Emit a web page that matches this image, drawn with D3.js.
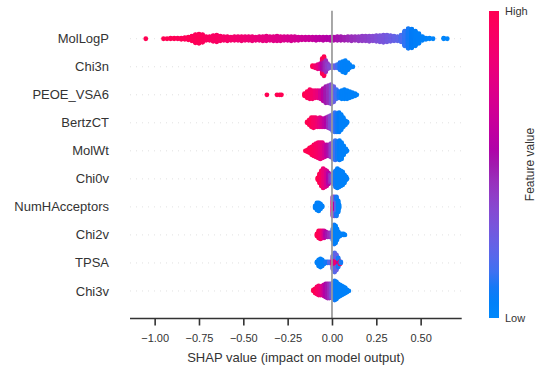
<!DOCTYPE html>
<html><head><meta charset="utf-8">
<script src="https://cdn.jsdelivr.net/npm/d3@7/dist/d3.min.js"></script>
<style>
body{margin:0;background:#fff}
svg{display:block}
text{font-family:"Liberation Sans",Arial,Helvetica,sans-serif;fill:#333333}
</style>
</head><body>
<svg id="chart" width="543" height="371"></svg>
<script>
// Feature names, top to bottom
const features = ["MolLogP","Chi3n","PEOE_VSA6","BertzCT","MolWt","Chi0v","NumHAcceptors","Chi2v","TPSA","Chi3v"];
const xTicks = [-1.0,-0.75,-0.5,-0.25,0,0.25,0.5];
const xLabel = "SHAP value (impact on model output)";
const colorbarLabel = "Feature value";
const colorbarTicks = ["High","Low"];

// Each entry: [SHAP value, number of samples at that value, normalised feature value (0 low .. 1 high)]
const molLogP = [
 [-1.05,1,1.0],[-0.95,1,1.0],[-0.93,1,1.0],[-0.91,2,0.98],[-0.89,2,1.0],[-0.87,2,0.97],[-0.85,3,0.98],
 [-0.83,4,0.97],[-0.81,6,0.98],[-0.79,10,0.98],[-0.77,17,0.97],[-0.75,19,0.98],[-0.73,16,0.96],[-0.71,8,0.95],
 [-0.69,8,0.94],[-0.67,12,0.93],[-0.65,14,0.93],[-0.63,10,0.92],[-0.61,8,0.9],[-0.59,9,0.9],[-0.57,7,0.89],
 [-0.55,8,0.88],[-0.53,8,0.87],[-0.51,9,0.86],[-0.49,8,0.85],[-0.47,8,0.84],[-0.45,9,0.83],[-0.43,7,0.82],
 [-0.41,8,0.8],[-0.39,9,0.79],[-0.37,10,0.78],[-0.35,8,0.77],[-0.33,9,0.76],[-0.31,10,0.75],[-0.29,9,0.74],
 [-0.27,8,0.72],[-0.25,8,0.71],[-0.23,9,0.7],[-0.21,8,0.69],[-0.19,7,0.68],[-0.17,6,0.66],[-0.15,6,0.65],
 [-0.13,6,0.64],[-0.11,6,0.62],[-0.09,7,0.6],[-0.07,6,0.59],[-0.05,7,0.58],[-0.03,6,0.56],[-0.01,7,0.55],
 [0.01,7,0.54],[0.03,8,0.52],[0.05,8,0.5],[0.07,7,0.49],[0.09,8,0.47],[0.11,9,0.45],[0.13,8,0.44],
 [0.15,9,0.42],[0.17,10,0.4],[0.19,10,0.39],[0.21,11,0.37],[0.23,10,0.35],[0.25,12,0.33],[0.27,13,0.31],
 [0.29,15,0.3],[0.31,14,0.28],[0.33,12,0.26],[0.35,10,0.24],[0.37,9,0.22],[0.39,14,0.18],[0.41,30,0.13],
 [0.43,40,0.1],[0.45,38,0.08],[0.47,30,0.07],[0.49,20,0.06],[0.51,8,0.05],[0.53,3,0.04],[0.55,2,0.03],
 [0.57,1,0.03],[0.63,2,0.02],[0.65,1,0.02]
];
const chi3n = [
 [-0.11,2,1.0],[-0.095,3,0.9],[-0.08,5,0.8],[-0.065,6,0.7],[-0.055,12,0.55],[-0.055,4,1.0],
 [-0.045,14,0.5],[-0.045,6,1.0],[-0.035,12,0.45],[-0.025,6,0.4],[-0.015,3,0.35],[0.0,3,0.3],
 [0.015,3,0.25],[0.03,4,0.15],[0.045,8,0.1],[0.06,11,0.05],[0.075,13,0.05],[0.09,8,0.05],
 [0.1,4,0.05],[0.118,1,0.05]
];
const peoeVsa6 = [
 [-0.367,1,1.0],[-0.31,1,1.0],[-0.295,1,1.0],[-0.285,1,1.0],[-0.155,3,1.0],[-0.14,7,0.98],
 [-0.125,10,0.95],[-0.11,9,0.9],[-0.095,8,0.85],[-0.08,8,0.8],[-0.065,9,0.7],[-0.05,13,0.6],
 [-0.035,17,0.5],[-0.02,18,0.45],[-0.005,20,0.35],[0.01,16,0.25],[0.025,10,0.15],[0.04,7,0.1],
 [0.055,9,0.05],[0.07,10,0.05],[0.085,9,0.05],[0.1,7,0.05],[0.115,5,0.05],[0.13,3,0.05],[0.14,1,0.05]
];
const bertzCT = [
 [-0.14,2,1.0],[-0.128,6,1.0],[-0.116,10,0.97],[-0.104,11,0.93],[-0.092,10,0.9],[-0.08,9,0.85],
 [-0.068,10,0.78],[-0.056,9,0.7],[-0.044,9,0.62],[-0.032,10,0.55],[-0.02,12,0.45],[-0.008,14,0.35],
 [0.004,17,0.25],[0.016,20,0.15],[0.028,19,0.1],[0.04,20,0.08],[0.052,16,0.05],[0.064,10,0.05],
 [0.076,5,0.05],[0.085,2,0.05]
];
const molWt = [
 [-0.15,1,1.0],[-0.138,3,1.0],[-0.126,6,1.0],[-0.114,9,0.98],[-0.102,12,0.96],[-0.09,14,0.93],
 [-0.078,16,0.9],[-0.066,17,0.85],[-0.054,16,0.78],[-0.042,13,0.7],[-0.03,12,0.6],[-0.018,12,0.52],
 [-0.006,14,0.4],[0.006,17,0.28],[0.018,20,0.15],[0.03,18,0.1],[0.042,20,0.06],[0.054,17,0.05],
 [0.066,10,0.05],[0.078,4,0.05],[0.085,1,0.05]
];
const chi0v = [
 [-0.08,3,1.0],[-0.07,10,1.0],[-0.06,16,0.95],[-0.05,20,0.85],[-0.04,18,0.8],[-0.03,16,0.7],
 [-0.02,12,0.55],[-0.01,8,0.45],[0.0,6,0.3],[0.01,12,0.15],[0.02,17,0.1],[0.03,20,0.05],
 [0.04,18,0.05],[0.05,16,0.05],[0.06,14,0.05],[0.07,9,0.05],[0.08,4,0.05],[0.085,1,0.05]
];
const numHAcceptors = [
 [-0.095,3,0.05],[-0.085,8,0.05],[-0.075,9,0.05],[-0.065,6,0.05],[-0.055,2,0.05],
 [0.005,12,0.8],[0.005,8,0.45],[0.015,12,0.6],[0.015,8,0.3],[0.025,14,0.2],[0.025,6,0.1],
 [0.035,12,0.05],[0.04,4,0.05]
];
const chi2v = [
 [-0.085,3,1.0],[-0.075,8,1.0],[-0.065,9,0.95],[-0.055,8,0.85],[-0.045,8,0.7],[-0.035,6,0.55],
 [-0.025,5,0.5],[-0.015,5,0.45],[-0.005,4,0.4],[0.005,12,0.15],[0.012,20,0.1],[0.02,18,0.05],
 [0.028,12,0.05],[0.036,6,0.05],[0.045,3,0.05],[0.055,2,0.05],[0.065,2,0.05],[0.073,1,0.05]
];
const tpsa = [
 [-0.085,2,0.05],[-0.075,7,0.05],[-0.065,9,0.05],[-0.055,7,0.05],[-0.045,3,0.05],[-0.035,2,0.1],
 [-0.025,2,0.1],[-0.015,2,0.2],[0.005,8,0.8],[0.005,6,0.3],[0.015,10,0.7],[0.015,10,0.2],
 [0.025,8,0.9],[0.025,8,0.25],[0.035,6,0.6],[0.035,4,0.1],[0.045,3,1.0],[0.05,2,0.1]
];
const chi3v = [
 [-0.105,2,1.0],[-0.095,5,1.0],[-0.085,8,0.95],[-0.075,10,0.9],[-0.065,9,0.85],[-0.055,10,0.75],
 [-0.045,12,0.65],[-0.035,14,0.55],[-0.025,15,0.5],[-0.015,15,0.45],[-0.005,14,0.35],[0.005,16,0.2],
 [0.015,20,0.1],[0.025,18,0.05],[0.035,14,0.05],[0.045,12,0.05],[0.055,10,0.05],[0.065,8,0.05],
 [0.075,6,0.05],[0.085,3,0.05],[0.095,1,0.05]
];
const featureData = [molLogP, chi3n, peoeVsa6, bertzCT, molWt, chi0v, numHAcceptors, chi2v, tpsa, chi3v];

// ---- layout ----
const svg = d3.select("#chart");
const plot = {left:130, right:461.7, top:10.7, bottom:319};
const x = d3.scaleLinear().domain([-1.139, 0.7315]).range([plot.left, plot.right]);
const n = features.length;
const y = d3.scaleLinear().domain([-1, n]).range([plot.bottom, plot.top]);
const rowPos = i => n - 1 - i;

// SHAP red-blue colormap (LCH interpolation, darker middle)
function shapColor(t){
  t = Math.max(0, Math.min(1, t));
  const L = t <= 0.5 ? 54 + (40-54)*(t/0.5) : 40 + (54-40)*((t-0.5)/0.5);
  const C = 70 + 20*t;
  const H = 266.93 + (380.32-266.93)*t;
  return d3.hcl(H % 360, C, L).formatHex();
}

// grid lines
svg.append("g").selectAll("line").data(features).join("line")
  .attr("x1", plot.left).attr("x2", plot.right)
  .attr("y1", (d,i)=>y(rowPos(i))).attr("y2", (d,i)=>y(rowPos(i)))
  .attr("stroke","#cccccc").attr("stroke-width",0.6).attr("stroke-dasharray","1,5");

// beeswarm points
const dotsG = svg.append("g");
featureData.forEach((rows, i) => {
  const groups = d3.group(rows, d => d[0]);
  const pts = [];
  let maxOff = 0;
  for (const [, entries] of groups) {
    let layer = 0;
    for (const [sv, cnt, fv] of entries) {
      for (let k = 0; k < cnt; k++) {
        const off = Math.ceil(layer/2) * ((layer % 2) * 2 - 1);
        pts.push({s: sv, fv, off});
        maxOff = Math.max(maxOff, Math.abs(off));
        layer++;
      }
    }
  }
  const sc = maxOff > 0 ? 0.9 * 0.4 / maxOff : 0;
  dotsG.append("g").selectAll("circle").data(pts).join("circle")
    .attr("cx", d => x(d.s))
    .attr("cy", d => y(rowPos(i) + d.off * sc))
    .attr("r", 2.4)
    .attr("fill", d => shapColor(d.fv));
});

// zero line
svg.append("line").attr("x1", x(0)).attr("x2", x(0)).attr("y1", plot.top).attr("y2", plot.bottom)
  .attr("stroke","#999999").attr("stroke-width",1.7);

// feature labels
svg.append("g").selectAll("text").data(features).join("text")
  .attr("x", 109).attr("y", (d,i)=>y(rowPos(i)))
  .attr("dy","0.35em").attr("text-anchor","end").attr("font-size","13px").text(d=>d);

// x axis
const axisY = 318.5;
const xAxis = d3.axisBottom(x).tickValues(xTicks).tickSize(7).tickPadding(9)
  .tickFormat(d => d3.format(".2f")(d).replace("-", "\u2212"));
const ax = svg.append("g").attr("transform", `translate(0,${axisY})`).call(xAxis);
ax.select(".domain").attr("d", `M${plot.left},0H${plot.right}`).attr("stroke","#333333").attr("stroke-width",1.6);
ax.selectAll(".tick line").attr("stroke","#333333").attr("stroke-width",1.6);
ax.selectAll(".tick text").attr("font-size","11px").attr("fill","#333333")
  .attr("font-family","Liberation Sans, Arial, sans-serif");
svg.append("text").attr("x", (plot.left+plot.right)/2).attr("y", 362)
  .attr("text-anchor","middle").attr("font-size","13px").text(xLabel);

// colorbar
const cb = {x:489, w:10, top:11, bottom:318};
const defs = svg.append("defs");
const grad = defs.append("linearGradient").attr("id","cbgrad")
  .attr("x1","0").attr("y1","1").attr("x2","0").attr("y2","0");
d3.range(0, 1.0001, 0.05).forEach(t => {
  grad.append("stop").attr("offset", t).attr("stop-color", shapColor(t));
});
svg.append("rect").attr("x", cb.x).attr("y", cb.top).attr("width", cb.w).attr("height", cb.bottom-cb.top)
  .attr("fill","url(#cbgrad)");
svg.append("text").attr("x", cb.x+cb.w+6).attr("y", cb.top).attr("dy","0.35em")
  .attr("font-size","11px").text(colorbarTicks[0]);
svg.append("text").attr("x", cb.x+cb.w+6).attr("y", cb.bottom).attr("dy","0.35em")
  .attr("font-size","11px").text(colorbarTicks[1]);
svg.append("text").attr("transform", `translate(${cb.x+cb.w+35},${(cb.top+cb.bottom)/2}) rotate(-90)`)
  .attr("text-anchor","middle").attr("font-size","12px").text(colorbarLabel);
</script>
</body></html>
